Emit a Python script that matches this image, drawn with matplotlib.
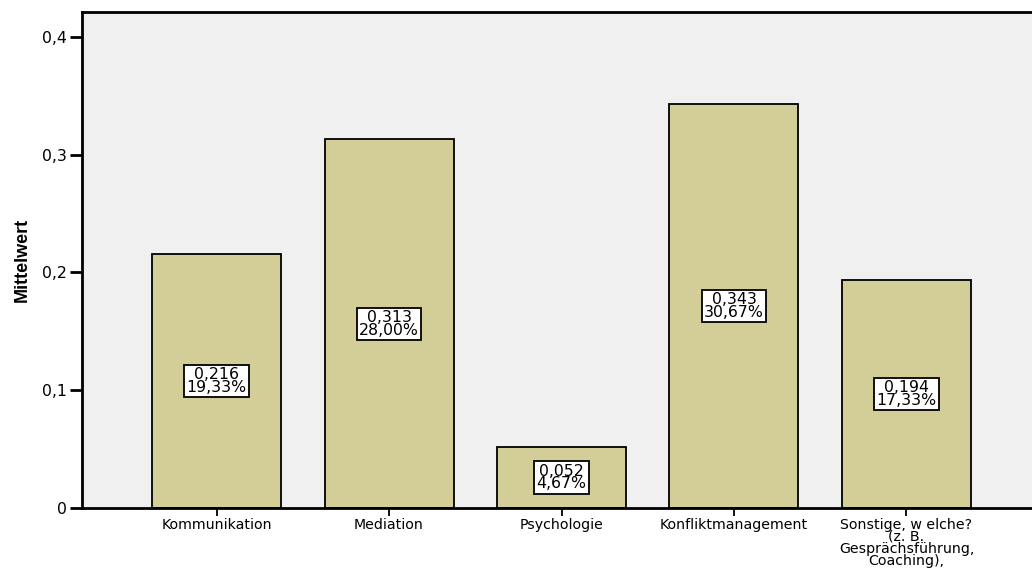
import matplotlib
matplotlib.use("Agg")
import matplotlib.pyplot as plt
from matplotlib import font_manager

categories = ["Kommunikation", "Mediation", "Psychologie", "Konfliktmanagement",
              "Sonstige, w elche?\n(z. B.\nGesprächsführung,\nCoaching),"]
means = [0.216, 0.313, 0.052, 0.343, 0.194]
percents = ["19,33%", "28,00%", "4,67%", "30,67%", "17,33%"]
mean_labels = ["0,216", "0,313", "0,052", "0,343", "0,194"]
yticks = [0, 0.1, 0.2, 0.3, 0.4]
ytick_labels = ["0", "0,1", "0,2", "0,3", "0,4"]

names = {f.name for f in font_manager.fontManager.ttflist}
base = "Liberation Sans" if "Liberation Sans" in names else "DejaVu Sans"
plt.rcParams['font.family'] = ['DejaVu Sans']

W, H = 1032, 570
fig = plt.figure(figsize=(W / 100, H / 100), dpi=100)
left, right, top, bottom = 82, 1041, 12, 508
ax = fig.add_axes([left / W, 1 - bottom / H, (right - left) / W, (bottom - top) / H])
ax.set_facecolor("#F0F0F0")

x = list(range(len(categories)))
ax.bar(x, means, width=0.748, color="#D3CE97", edgecolor="black", linewidth=1.3, zorder=2)
ax.set_xlim(-0.78, 4.78)
ax.set_ylim(0, 0.4212)

for xi, m, ml, p in zip(x, means, mean_labels, percents):
    ax.text(xi, m / 2, ml + "\n" + p, ha="center", va="center", fontsize=11.3,
            linespacing=0.8, zorder=3,
            bbox=dict(boxstyle="square,pad=0.15", facecolor="white", edgecolor="black", linewidth=1.3))

ax.set_yticks(yticks)
ax.set_yticklabels(ytick_labels, fontsize=11.3)
ax.set_xticks(x)
ax.set_xticklabels(categories, fontsize=10.2, linespacing=0.82, va="top")
ax.tick_params(axis="y", direction="out", length=9, width=2, pad=2)
ax.tick_params(axis="x", direction="out", length=6, width=1.3, pad=1)

for s in ["left", "bottom", "top"]:
    ax.spines[s].set_linewidth(2)
    ax.spines[s].set_color("black")
ax.spines["right"].set_visible(False)

fig.text(22 / W, 1 - 260 / H, "Mittelwert", rotation=90, ha="center", va="center",
         fontsize=13, fontweight="bold", family=[base, 'DejaVu Sans'])

fig.savefig("out.png", dpi=100)
